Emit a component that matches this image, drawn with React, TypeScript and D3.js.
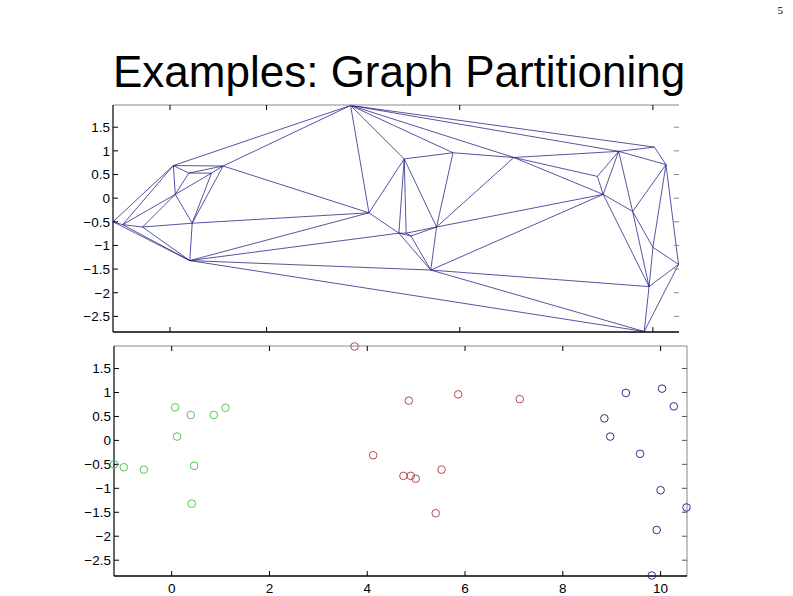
import React from "react";
import * as d3 from "d3";

// Node coordinates (x, y), grouped by partition
const greenX = [-1.18, -0.98, -0.57, 0.07, 0.11, 0.39, 0.46, 0.41, 0.86, 1.1];
const greenY = [-0.5, -0.56, -0.61, 0.69, 0.08, 0.53, -0.53, -1.32, 0.53, 0.68];
const redX = [3.74, 4.12, 4.85, 5.86, 7.12, 4.74, 4.89, 4.99, 5.52, 5.4];
const redY = [1.96, -0.31, 0.83, 0.96, 0.86, -0.74, -0.74, -0.8, -0.61, -1.52];
const blueX = [9.29, 10.03, 10.27, 8.85, 8.97, 9.58, 10.0, 10.53, 9.92, 9.82];
const blueY = [0.99, 1.08, 0.71, 0.46, 0.08, -0.28, -1.04, -1.4, -1.87, -2.82];

const yTicks = [1.5, 1, 0.5, 0, -0.5, -1, -1.5, -2, -2.5];
const xTicksBottom = [0, 2, 4, 6, 8, 10];
const xTicksTop = [0, 2, 6, 10];
const xDomain = [-1.18, 10.54];
const yDomain = [-2.83, 1.97];

const title = "Examples: Graph Partitioning";
const pageNumber = "5";

const FONT = "'Liberation Sans', Arial, sans-serif";

export default function App() {
  const W = 793, H = 596;
  const fmt = d3.format("");

  const groups = [
    { xs: greenX, ys: greenY, color: "#3fbf3f" },
    { xs: redX, ys: redY, color: "#b03535" },
    { xs: blueX, ys: blueY, color: "#1a1a78" },
  ];
  const allPts: [number, number][] = [];
  groups.forEach((g) => g.xs.forEach((x, i) => allPts.push([x, g.ys[i]])));

  // top panel
  const tx = d3.scaleLinear().domain(xDomain).range([113, 679]);
  const ty = d3.scaleLinear().domain(yDomain).range([332, 105]);
  // bottom panel
  const bx = d3.scaleLinear().domain(xDomain).range([114, 687]);
  const by = d3.scaleLinear().domain(yDomain).range([576, 346]);

  const delaunay = d3.Delaunay.from(allPts, (p) => tx(p[0]), (p) => ty(p[1]));
  const meshPath = delaunay.render();

  const tickLen = 5;

  return (
    <svg width={W} height={H} style={{ position: "absolute", left: 0, top: 0, background: "#fff" }}>
      <rect x={0} y={0} width={W} height={H} fill="#fff" />
      <text x={783} y={14} fontFamily="'Liberation Serif', 'Times New Roman', serif" fontSize={11} textAnchor="end" fill="#000">
        {pageNumber}
      </text>
      <text x={113} y={87} fontFamily={FONT} fontSize={44} fill="#000">
        {title}
      </text>

      {/* TOP PANEL */}
      <g>
        <path d={meshPath} fill="none" stroke="#1c1c82" strokeWidth={0.75} />
        <line x1={113} x2={679} y1={105} y2={105} stroke="#888" strokeWidth={1} />
        <line x1={113} x2={113} y1={105} y2={332} stroke="#000" strokeWidth={1.2} />
        <line x1={113} x2={679} y1={332} y2={332} stroke="#000" strokeWidth={1.4} />
        {xTicksTop.map((t) => (
          <g key={"tt" + t}>
            <line x1={tx(t)} x2={tx(t)} y1={105} y2={105 + tickLen} stroke="#000" />
            <line x1={tx(t)} x2={tx(t)} y1={332} y2={332 - tickLen} stroke="#000" />
          </g>
        ))}
        {yTicks.map((t) => (
          <g key={"ty" + t}>
            <line x1={113} x2={113 + tickLen} y1={ty(t)} y2={ty(t)} stroke="#000" />
            <line x1={679} x2={679 - tickLen} y1={ty(t)} y2={ty(t)} stroke="#888" />
            <text x={110} y={ty(t)} dy="0.36em" textAnchor="end" fontFamily={FONT} fontSize={13.5} fill="#000">
              {fmt(t)}
            </text>
          </g>
        ))}
      </g>

      {/* BOTTOM PANEL */}
      <g>
        <line x1={114} x2={687} y1={346} y2={346} stroke="#888" strokeWidth={1} />
        <line x1={687} x2={687} y1={346} y2={576} stroke="#888" strokeWidth={1} />
        <line x1={114} x2={114} y1={346} y2={576} stroke="#000" strokeWidth={1.2} />
        <line x1={114} x2={687} y1={576} y2={576} stroke="#000" strokeWidth={1.4} />
        {xTicksBottom.map((t) => (
          <g key={"bt" + t}>
            <line x1={bx(t)} x2={bx(t)} y1={346} y2={346 + tickLen} stroke="#000" />
            <line x1={bx(t)} x2={bx(t)} y1={576} y2={576 - tickLen} stroke="#000" />
            <text x={bx(t)} y={593} textAnchor="middle" fontFamily={FONT} fontSize={13.5} fill="#000">
              {fmt(t)}
            </text>
          </g>
        ))}
        {yTicks.map((t) => (
          <g key={"by" + t}>
            <line x1={114} x2={114 + tickLen} y1={by(t)} y2={by(t)} stroke="#000" />
            <line x1={687} x2={687 - tickLen} y1={by(t)} y2={by(t)} stroke="#555" />
            <text x={111} y={by(t)} dy="0.36em" textAnchor="end" fontFamily={FONT} fontSize={13.5} fill="#000">
              {fmt(t)}
            </text>
          </g>
        ))}
        {groups.map((g, gi) =>
          g.xs.map((x, i) => (
            <circle
              key={gi + "-" + i}
              cx={bx(x)}
              cy={by(g.ys[i])}
              r={3.8}
              fill="none"
              stroke={g.color}
              strokeWidth={0.9}
            />
          ))
        )}
      </g>
    </svg>
  );
}
